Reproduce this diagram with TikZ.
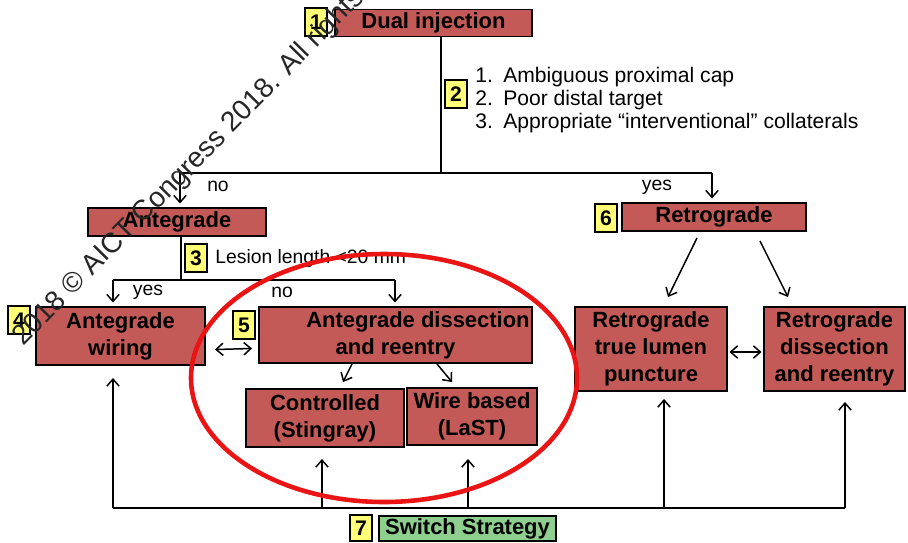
\documentclass[tikz,border=0pt]{standalone}
\usepackage{fontspec}
\setmainfont{Liberation Sans}
\usetikzlibrary{arrows.meta,calc,positioning}
\definecolor{boxRed}{RGB}{195,90,88}
\definecolor{numYellow}{RGB}{255,255,120}
\definecolor{switchGreen}{RGB}{142,206,142}
\definecolor{ringRed}{RGB}{235,20,20}

\begin{document}
\begin{tikzpicture}[
    redbox/.style={draw=black, line width=1.1pt, fill=boxRed, align=center, inner sep=0pt,
      font=\fontsize{12.5}{15.3}\selectfont\bfseries},
    numbox/.style={draw=black, line width=1.1pt, fill=numYellow, inner sep=0pt,
      minimum width=0.44cm, minimum height=0.56cm, font=\fontsize{12}{14}\selectfont\bfseries},
    lbl/.style={font=\fontsize{11}{13}\selectfont, inner sep=0pt},
    conn/.style={line width=0.85pt},
    arr/.style={conn, -{Straight Barb[length=4pt,width=7pt]}},
    darr/.style={conn, {Straight Barb[length=4pt,width=7pt]}-{Straight Barb[length=4pt,width=7pt]}}
  ]
  \useasboundingbox (0,0) rectangle (18.16,10.84);
  % Dual injection and criteria
  \node[numbox] (n1) at (6.32,10.40) {1};
  \node[redbox, minimum width=3.94cm, minimum height=0.54cm] (dual) at (8.67,10.38) {Dual injection};
  \node[numbox] (n2) at (9.12,8.96) {2};
  \node[lbl, font=\fontsize{12}{13}\selectfont, anchor=west, align=left] (crit) at (9.50,8.84)
    {\makebox[0.56cm][l]{1.}Ambiguous proximal cap\\
     \makebox[0.56cm][l]{2.}Poor distal target\\
     \makebox[0.56cm][l]{3.}Appropriate “interventional” collaterals};
  \coordinate (split1) at (8.82,7.38);
  \coordinate (noL) at (3.60,7.38);
  \coordinate (yesR) at (14.24,7.38);
  \draw[conn] (dual.south -| split1) -- (split1);
  \draw[conn] (noL) -- (yesR);
  \node[lbl] (no1) at (4.36,7.12) {no};
  \node[lbl] (yes1) at (13.14,7.10) {yes};
  % Antegrade branch
  \node[redbox, minimum width=3.56cm, minimum height=0.56cm] (ante) at (3.54,6.40) {Antegrade};
  \draw[arr, shorten >=2pt] (noL) -- (noL |- ante.north);
  \node[numbox] (n3) at (3.92,5.68) {3};
  \node[lbl, anchor=west] (lesion) at (4.30,5.68) {Lesion length <20 mm};
  \coordinate (split3) at (3.62,5.24);
  \coordinate (yesL) at (2.26,5.24);
  \coordinate (noR) at (7.90,5.24);
  \draw[conn] (ante.south -| split3) -- (split3);
  \draw[conn] (yesL) -- (noR);
  \node[lbl] (yes3) at (2.96,5.00) {yes};
  \node[lbl] (no3) at (5.64,5.00) {no};
  \node[numbox] (n4) at (0.38,4.44) {4};
  \node[redbox, minimum width=3.38cm, minimum height=1.16cm] (aw) at (2.41,4.12) {Antegrade\\wiring};
  \node[numbox] (n5) at (4.88,4.34) {5};
  \node[redbox, minimum width=5.46cm, minimum height=1.12cm] (ad) at (7.91,4.14)
    {\hspace*{0.9cm}Antegrade dissection\\and reentry};
  \draw[arr, shorten >=2pt] (yesL) -- (yesL |- aw.north);
  \draw[arr, shorten >=2pt] (noR) -- (noR |- ad.north);
  \draw[darr] ($(aw.east)+(0.18,-0.27)$) -- ($(ad.west)+(-0.12,-0.27)$);
  \node[redbox, minimum width=3.16cm, minimum height=1.16cm] (ctrl) at (6.50,2.48) {Controlled\\(Stingray)};
  \node[redbox, minimum width=2.60cm, minimum height=1.14cm] (wire) at (9.44,2.51) {Wire based\\(LaST)};
  \draw[arr] ([xshift=-0.87cm]ad.south) -- ([xshift=0.36cm,yshift=0.12cm]ctrl.north);
  \draw[arr] ([xshift=0.83cm]ad.south) -- ([xshift=-0.40cm,yshift=0.10cm]wire.north);
  % Retrograde branch
  \node[numbox] (n6) at (12.12,6.48) {6};
  \node[redbox, minimum width=3.68cm, minimum height=0.56cm] (retro) at (14.28,6.50) {Retrograde};
  \draw[arr, shorten >=2pt] (yesR) -- (yesR |- retro.north);
  \node[redbox, minimum width=3.04cm, minimum height=1.68cm] (rtlp) at (13.02,3.86) {Retrograde\\true lumen\\puncture};
  \node[redbox, minimum width=2.82cm, minimum height=1.68cm] (rdr) at (16.69,3.86) {Retrograde\\dissection\\and reentry};
  \draw[arr] ([xshift=-0.34cm,yshift=-0.12cm]retro.south) -- ([xshift=0.34cm,yshift=0.18cm]rtlp.north);
  \draw[arr] ([xshift=0.92cm,yshift=-0.18cm]retro.south) -- ([xshift=-0.93cm,yshift=0.18cm]rdr.north);
  \draw[darr] ($(rtlp.east)+(0.03,-0.06)$) -- ($(rdr.west)+(-0.03,-0.06)$);
  % Switch strategy
  \coordinate (bL) at (2.26,0.68);
  \coordinate (bR) at (16.90,0.68);
  \coordinate (b2) at (6.44,0.68);
  \coordinate (b3) at (9.36,0.68);
  \coordinate (b4) at (13.28,0.68);
  \draw[conn] (bL) -- (bR);
  \draw[arr] (bL) -- ($(bL |- aw.south)+(0,-0.24)$);
  \draw[arr] (b2) -- ($(b2 |- ctrl.south)+(0,-0.22)$);
  \draw[arr] (b3) -- ($(b3 |- wire.south)+(0,-0.26)$);
  \draw[arr] (b4) -- ($(b4 |- rtlp.south)+(0,-0.14)$);
  \draw[arr] (bR) -- ($(bR |- rdr.south)+(0,-0.20)$);
  \node[numbox, minimum height=0.52cm] (n7) at (7.22,0.28) {7};
  \node[redbox, fill=switchGreen, minimum width=3.54cm, minimum height=0.50cm] (switch) at (9.35,0.27) {Switch Strategy};
  % Highlight and watermark
  \draw[ringRed, line width=2.6pt] (7.68,3.28) ellipse [x radius=3.86, y radius=2.48];
  \node[font=\fontsize{16}{16}\selectfont, text=black!85, rotate=45.5, anchor=base west, inner sep=0pt] (wm)
    at (0.46,3.90) {2018 © AICT Congress 2018. All rights};
\end{tikzpicture}
\end{document}
